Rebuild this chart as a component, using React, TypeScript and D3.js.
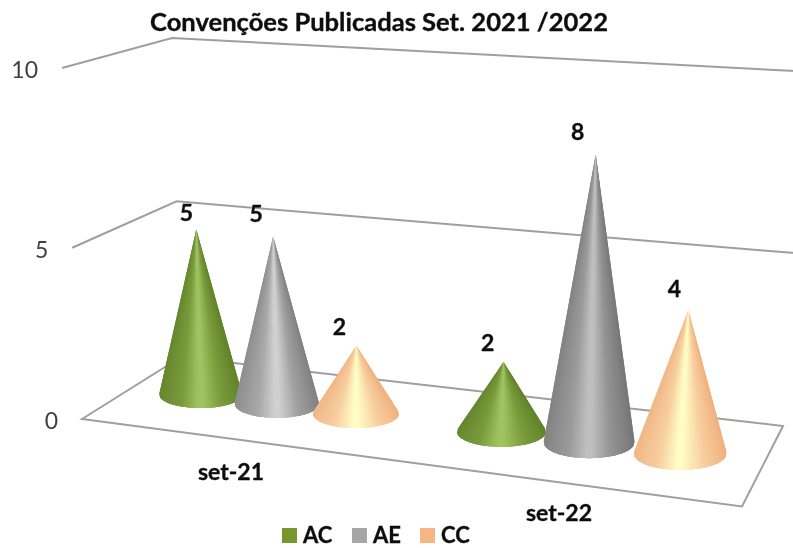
import React from "react";
import * as d3 from "d3";

const title = "Convenções Publicadas Set. 2021 /2022";
const categories = ["set-21", "set-22"];
const seriesNames = ["AC", "AE", "CC"];
const valuesAC = [5, 2];
const valuesAE = [5, 8];
const valuesCC = [2, 4];
const axisTicks = [0, 5, 10];
const seriesValues = [valuesAC, valuesAE, valuesCC];
const legendColors = ["#76962f", "#a6a6a6", "#f7b583"];

type Pt = [number, number];
const W = 793, H = 548;
const floorQuad: Pt[] = [[82, 419], [742, 506.5], [783, 426], [181, 357]];
const topQuad: Pt[] = [[62, 68], [762, 114], [812, 72], [172, 38]];

function homography(q: Pt[]) {
  const [[x0, y0], [x1, y1], [x2, y2], [x3, y3]] = q;
  const dx1 = x1 - x2, dx2 = x3 - x2, sx = x0 - x1 + x2 - x3;
  const dy1 = y1 - y2, dy2 = y3 - y2, sy = y0 - y1 + y2 - y3;
  const den = dx1 * dy2 - dx2 * dy1;
  const g = (sx * dy2 - dx2 * sy) / den, h = (dx1 * sy - sx * dy1) / den;
  const a = x1 - x0 + g * x1, b = x3 - x0 + h * x3, c = x0;
  const d = y1 - y0 + g * y1, e = y3 - y0 + h * y3, f = y0;
  return (u: number, v: number): Pt => {
    const w = g * u + h * v + 1;
    return [(a * u + b * v + c) / w, (d * u + e * v + f) / w];
  };
}
const floorP = homography(floorQuad);
const topP = homography(topQuad);
const heightT = d3.scaleLinear().domain([0, 5, 10]).range([0, 0.488, 1]);
const project = (u: number, v: number, value: number): Pt => {
  const t = heightT(value);
  const a = floorP(u, v), b = topP(u, v);
  return [a[0] + (b[0] - a[0]) * t, a[1] + (b[1] - a[1]) * t];
};

const catScale = d3.scaleBand<string>().domain(categories).range([0.004, 0.999]).paddingInner(0.2).paddingOuter(0.1);
const serScale = d3.scaleBand<string>().domain(seriesNames).range([0, catScale.bandwidth()]);
const V_MID = 0.5, R_U = 0.0725, R_V = 0.21, TIP_SHIFT = 2.5, RX_MEAN = 42, RX_DAMP = 0.5;

const stopOffsets = [0, 0.3, 0.5, 0.72, 1];
const shadeAC = ["#64852c", "#7a9c3c", "#a2c462", "#7a9c3c", "#5f8028"];
const shadeAE = ["#8c8c8c", "#a8a8a8", "#d2d2d2", "#a0a0a0", "#7f7f7f"];
const shadeCC = ["#f0b585", "#f8cfa0", "#ffffc6", "#f8d0a0", "#f0ae7c"];
const shades = [shadeAC, shadeAE, shadeCC];
const coneDim = [[1, 1], [1, 0.92], [1, 1]];
const SLICES = 56;

function coneSlices(c: Pt, rx: number, ry: number, tip: Pt, si: number, ci: number) {
  const px = (tip[0] - c[0]) / rx, py = (tip[1] - c[1]) / ry;
  const base = Math.atan2(py, px), off = Math.acos(1 / Math.hypot(px, py));
  const start = base + off, end = base + 2 * Math.PI - off;
  // even steps across the width, stretched to run between the two tangent points
  const angleAt = (i: number) => start + ((end - start) * Math.acos(1 - (2 * Math.min(SLICES, Math.max(0, i))) / SLICES)) / Math.PI;
  const P = (a: number): Pt => [c[0] + rx * Math.cos(a), c[1] + ry * Math.sin(a)];
  const col = d3.scaleLinear<string>().domain(stopOffsets).range(shades[si]).interpolate(d3.interpolateRgb);
  const dim = coneDim[si][ci];
  const slices = d3.range(SLICES).map((i) => {
    const pts: Pt[] = [tip, P(angleAt(i - 1)), P(angleAt(i)), P(angleAt(i + 1)), P(angleAt(i + 2))];
    const s = 1 - (i + 0.5) / SLICES; // 0 at left, 1 at right
    const rgb = d3.rgb(col(s));
    return { s, d: d3.line()(pts)! + "Z", fill: d3.rgb(rgb.r * dim, rgb.g * dim, rgb.b * dim).formatHex() };
  });
  // paint from the rim to the middle so the overlap at the apex ends up light
  return slices.sort((a, b) => Math.abs(b.s - 0.5) - Math.abs(a.s - 0.5));
}

const labelDx = [[-10, -16], [-17, -18], [-17, -14]];
const labelDy = [[-8, -11], [-14, -14], [-11, -13]];
const legendX = [282, 352, 420];
const catLabelX = [231, 559];
const catLabelY = [480, 521];

const sans = "Lato, Carlito, 'Open Sans', sans-serif";
const bold = { fontWeight: 700, fill: "#111", stroke: "#111", strokeWidth: 0.35 };

export default function App() {
  const gridPath = (v: number) => {
    const a = project(0, 0, v), b = project(0, 1, v), c = project(1, 1, v);
    return d3.line()([a, b, c]) as string;
  };
  const floorPath = d3.line()(floorQuad)! + "Z";
  return (
    <svg width={W} height={H} style={{ position: "absolute", left: 0, top: 0, background: "#fff" }} fontFamily={sans}>
      <defs>
        <filter id="soft" x="-5%" y="-5%" width="110%" height="110%">
          <feGaussianBlur stdDeviation="0.45" />
        </filter>
      </defs>
      <g filter="url(#soft)">
        <text x={379} y={31} textAnchor="middle" fontSize={24} textLength={458} lengthAdjust="spacingAndGlyphs" {...bold}>{title}</text>
        {axisTicks.map((t) => {
          const c = project(0, 0, t);
          return (
            <g key={t}>
              <path d={t === 0 ? floorPath : gridPath(t)} fill="none" stroke="#9f9f9f" strokeWidth={2} />
              <text x={c[0] - 24} y={c[1] + 10} textAnchor="end" fontSize={23} fill="#404040">{t}</text>
            </g>
          );
        })}
        {categories.flatMap((cat, ci) =>
          seriesNames.map((s, si) => {
            const u = catScale(cat)! + serScale(s)! + serScale.bandwidth() / 2;
            const c = project(u, V_MID, 0);
            const raw = project(u, V_MID, seriesValues[si][ci]);
            const tip: Pt = [raw[0] + TIP_SHIFT, raw[1]];
            const rx0 = (project(u + R_U, V_MID, 0)[0] - project(u - R_U, V_MID, 0)[0]) / 2;
            const rx = RX_MEAN + (rx0 - RX_MEAN) * RX_DAMP;
            const ry = (project(u, V_MID - R_V, 0)[1] - project(u, V_MID + R_V, 0)[1]) / 2;
            return (
              <g key={cat + s}>
                {coneSlices(c, rx, ry, tip, si, ci).map((p, i) => (
                  <path key={i} d={p.d} fill={p.fill} />
                ))}
                <text x={tip[0] + labelDx[si][ci]} y={tip[1] + labelDy[si][ci]} textAnchor="middle" fontSize={23} {...bold}>
                  {seriesValues[si][ci]}
                </text>
              </g>
            );
          })
        )}
        {categories.map((cat, i) => (
          <text key={cat} x={catLabelX[i]} y={catLabelY[i]} textAnchor="middle" fontSize={23} {...bold}>{cat}</text>
        ))}
        {seriesNames.map((s, i) => (
          <g key={s}>
            <rect x={legendX[i]} y={528} width={15} height={15} fill={legendColors[i]} />
            <text x={legendX[i] + 21} y={543} fontSize={22} {...bold}>{s}</text>
          </g>
        ))}
      </g>
    </svg>
  );
}
